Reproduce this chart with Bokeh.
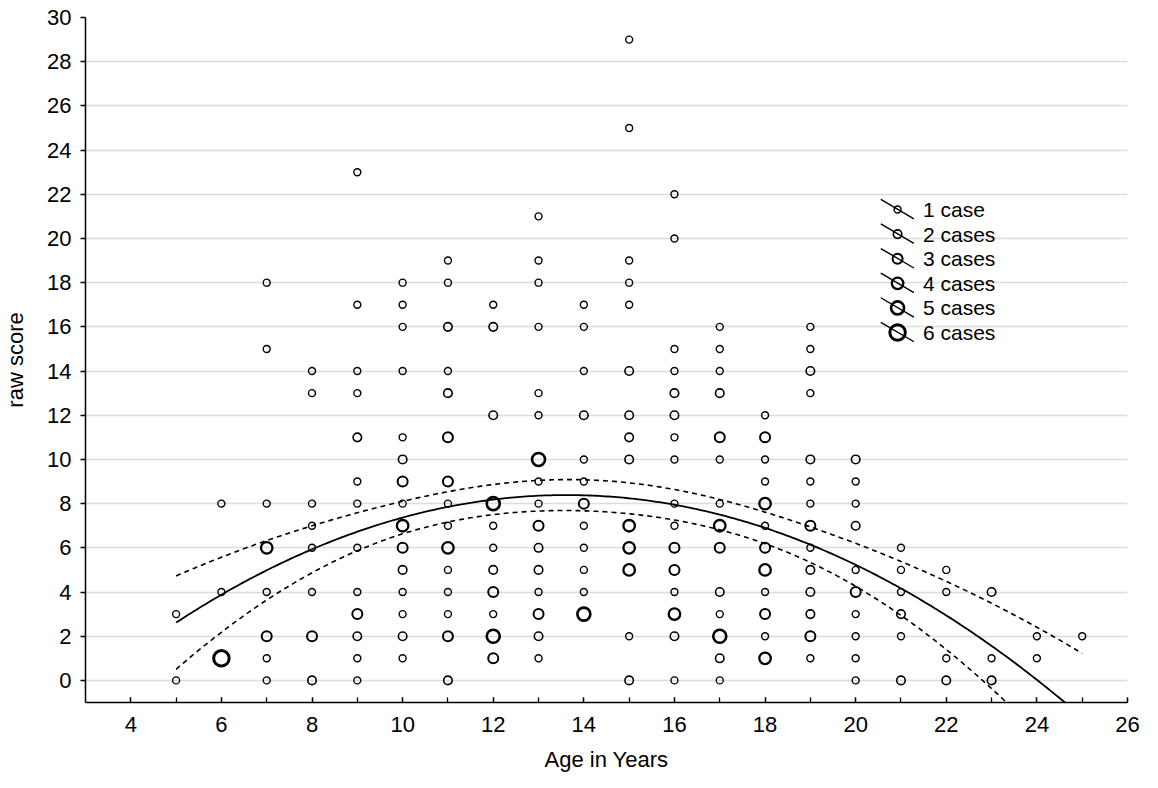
import numpy as np
from bokeh.plotting import figure
from bokeh.models import Range1d, FixedTicker, ColumnDataSource
from bokeh.embed import file_html
from bokeh.resources import INLINE
from bokeh.core.properties import value

# ---------------- data ----------------
age = [5, 5,
       6, 6, 6,
       7, 7, 7, 7, 7, 7, 7, 7,
       8, 8, 8, 8, 8, 8, 8, 8,
       9, 9, 9, 9, 9, 9, 9, 9, 9, 9, 9, 9, 9,
       10, 10, 10, 10, 10, 10, 10, 10, 10, 10, 10, 10, 10, 10, 10,
       11, 11, 11, 11, 11, 11, 11, 11, 11, 11, 11, 11, 11, 11, 11,
       12, 12, 12, 12, 12, 12, 12, 12, 12, 12, 12,
       13, 13, 13, 13, 13, 13, 13, 13, 13, 13, 13, 13, 13, 13, 13, 13,
       14, 14, 14, 14, 14, 14, 14, 14, 14, 14, 14, 14,
       15, 15, 15, 15, 15, 15, 15, 15, 15, 15, 15, 15, 15, 15,
       16, 16, 16, 16, 16, 16, 16, 16, 16, 16, 16, 16, 16, 16, 16, 16,
       17, 17, 17, 17, 17, 17, 17, 17, 17, 17, 17, 17, 17, 17,
       18, 18, 18, 18, 18, 18, 18, 18, 18, 18, 18, 18,
       19, 19, 19, 19, 19, 19, 19, 19, 19, 19, 19, 19, 19, 19,
       20, 20, 20, 20, 20, 20, 20, 20, 20, 20,
       21, 21, 21, 21, 21, 21,
       22, 22, 22, 22,
       23, 23, 23,
       24, 24,
       25]
score = [3, 0,
         8, 4, 1,
         18, 15, 8, 6, 4, 2, 1, 0,
         14, 13, 8, 7, 6, 4, 2, 0,
         23, 17, 14, 13, 11, 9, 8, 6, 4, 3, 2, 1, 0,
         18, 17, 16, 14, 11, 10, 9, 8, 7, 6, 5, 4, 3, 2, 1,
         19, 18, 16, 14, 13, 11, 9, 8, 7, 6, 5, 4, 3, 2, 0,
         17, 16, 12, 8, 7, 6, 5, 4, 3, 2, 1,
         21, 19, 18, 16, 13, 12, 10, 9, 8, 7, 6, 5, 4, 3, 2, 1,
         17, 16, 14, 12, 10, 9, 8, 7, 6, 5, 4, 3,
         29, 25, 19, 18, 17, 14, 12, 11, 10, 7, 6, 5, 2, 0,
         22, 20, 15, 14, 13, 12, 11, 10, 8, 7, 6, 5, 4, 3, 2, 0,
         16, 15, 14, 13, 11, 10, 8, 7, 6, 4, 3, 2, 1, 0,
         12, 11, 10, 9, 8, 7, 6, 5, 4, 3, 2, 1,
         16, 15, 14, 13, 10, 9, 8, 7, 6, 5, 4, 3, 2, 1,
         10, 9, 8, 7, 5, 4, 3, 2, 1, 0,
         6, 5, 4, 3, 2, 0,
         5, 4, 1, 0,
         4, 1, 0,
         2, 1,
         2]
cases = [1, 1,
         1, 1, 6,
         1, 1, 1, 4, 1, 3, 1, 1,
         1, 1, 1, 1, 1, 1, 3, 2,
         1, 1, 1, 1, 2, 1, 1, 1, 1, 3, 2, 1, 1,
         1, 1, 1, 1, 1, 2, 3, 1, 4, 3, 2, 1, 1, 2, 1,
         1, 1, 2, 1, 2, 3, 3, 1, 1, 4, 1, 1, 1, 3, 2,
         1, 2, 2, 5, 1, 1, 2, 3, 1, 5, 3,
         1, 1, 1, 1, 1, 1, 5, 1, 1, 3, 2, 2, 1, 3, 2, 1,
         1, 1, 1, 2, 1, 1, 3, 1, 1, 1, 1, 5,
         1, 1, 1, 1, 1, 2, 2, 2, 2, 4, 4, 4, 1, 2,
         1, 1, 1, 1, 2, 2, 1, 1, 1, 1, 3, 3, 1, 4, 2, 1,
         1, 1, 1, 2, 3, 1, 1, 4, 3, 2, 1, 5, 2, 1,
         1, 3, 1, 1, 4, 1, 3, 4, 1, 3, 1, 4,
         1, 1, 2, 1, 2, 1, 1, 3, 1, 2, 2, 2, 3, 1,
         2, 1, 1, 2, 1, 3, 1, 1, 1, 1,
         1, 1, 1, 2, 1, 2,
         1, 1, 1, 2,
         2, 1, 2,
         1, 1,
         1]

legend_counts = [1, 2, 3, 4, 5, 6]
legend_labels = ["1 case", "2 cases", "3 cases", "4 cases", "5 cases", "6 cases"]

x_ticks = list(range(4, 27, 2))
y_ticks = list(range(0, 31, 2))

# ---------------- styles ----------------
marker_diam = {1: 7, 2: 8.5, 3: 10, 4: 11.5, 5: 13, 6: 15.5}
marker_lw = {1: 1.4, 2: 1.6, 3: 2.0, 4: 2.3, 5: 2.6, 6: 3.0}
FONT = "Liberation Sans"

# ---------------- quadratic fit with 95% confidence band ----------------
a = np.array(age, float)
s = np.array(score, float)
w = np.array(cases, float)
X = np.column_stack([np.ones_like(a), a, a ** 2])
XtWX = X.T @ (X * w[:, None])
beta = np.linalg.solve(XtWX, X.T @ (w * s))
resid = s - X @ beta
n = w.sum()
s2 = (w * resid ** 2).sum() / (n - 3)
cov = s2 * np.linalg.inv(XtWX)
xs = np.linspace(min(age), max(age), 301)
Xs = np.column_stack([np.ones_like(xs), xs, xs ** 2])
yhat = Xs @ beta
se = np.sqrt(np.einsum("ij,jk,ik->i", Xs, cov, Xs))
tval = 1.968
upper = yhat + tval * se
lower = yhat - tval * se

# ---------------- figure ----------------
p = figure(width=1158, height=788, output_backend="svg", toolbar_location=None,
           x_range=Range1d(3, 26), y_range=Range1d(-1, 30),
           min_border_left=85, min_border_right=31, min_border_top=17, min_border_bottom=86)
p.outline_line_color = None
p.background_fill_color = "white"
p.border_fill_color = "white"

p.xgrid.grid_line_color = None
p.ygrid.grid_line_color = "#dcdcdc"
p.ygrid.grid_line_width = 1.5
p.ygrid.ticker = FixedTicker(ticks=y_ticks)

p.xaxis.ticker = FixedTicker(ticks=x_ticks, minor_ticks=list(range(4, 27)))
p.yaxis.ticker = FixedTicker(ticks=y_ticks)
for ax in (p.xaxis[0], p.yaxis[0]):
    ax.axis_line_color = "black"
    ax.axis_line_width = 1.5
    ax.major_tick_line_color = "black"
    ax.major_tick_line_width = 1.3
    ax.minor_tick_line_color = "black"
    ax.minor_tick_line_width = 1.3
    ax.major_label_text_font = FONT
    ax.major_label_text_font_size = "22px"
    ax.major_label_text_color = "black"
    ax.axis_label_text_font = FONT
    ax.axis_label_text_font_size = "22px"
    ax.axis_label_text_font_style = "normal"
    ax.axis_label_text_color = "black"

p.xaxis.major_tick_in = 5
p.xaxis.major_tick_out = 0
p.xaxis.minor_tick_in = 5
p.xaxis.minor_tick_out = 0
p.xaxis.major_label_standoff = 14
p.xaxis.axis_label = "Age in Years"
p.xaxis.axis_label_standoff = 12

p.yaxis.major_tick_in = 0
p.yaxis.major_tick_out = 5
p.yaxis.minor_tick_line_color = None
p.yaxis.major_label_standoff = 9
p.yaxis.axis_label = "raw score"
p.yaxis.axis_label_standoff = 16

# fit lines
p.line(xs, yhat, line_color="black", line_width=1.8)
p.line(xs, upper, line_color="black", line_width=1.6, line_dash="5 4")
p.line(xs, lower, line_color="black", line_width=1.6, line_dash="5 4")

# points
src = ColumnDataSource(dict(
    x=age, y=score,
    size=[marker_diam[c] for c in cases],
    lw=[marker_lw[c] for c in cases],
))
p.scatter("x", "y", source=src, marker="circle", size="size", line_width="lw",
          line_color="black", fill_color=None)

# custom legend (marker crossed by a diagonal stroke)
lx = 20.925
ly0 = 21.31
dy = 1.113
leg_y = [ly0 - i * dy for i in range(len(legend_counts))]
p.segment(x0=[lx - 0.37] * 6, y0=[y + 0.46 for y in leg_y],
          x1=[lx + 0.36] * 6, y1=[y - 0.42 for y in leg_y],
          line_color="black", line_width=1.4)
p.scatter(x=[lx] * 6, y=leg_y, marker="circle",
          size=[marker_diam[c] for c in legend_counts],
          line_width=[marker_lw[c] for c in legend_counts],
          line_color="black", fill_color=None)
p.text(x=[lx + 0.56] * 6, y=leg_y, text=legend_labels,
       text_font=value(FONT), text_font_size="21px",
       text_baseline="middle", text_align="left", text_color="black")

open("out.html", "w").write(file_html(p, INLINE))
